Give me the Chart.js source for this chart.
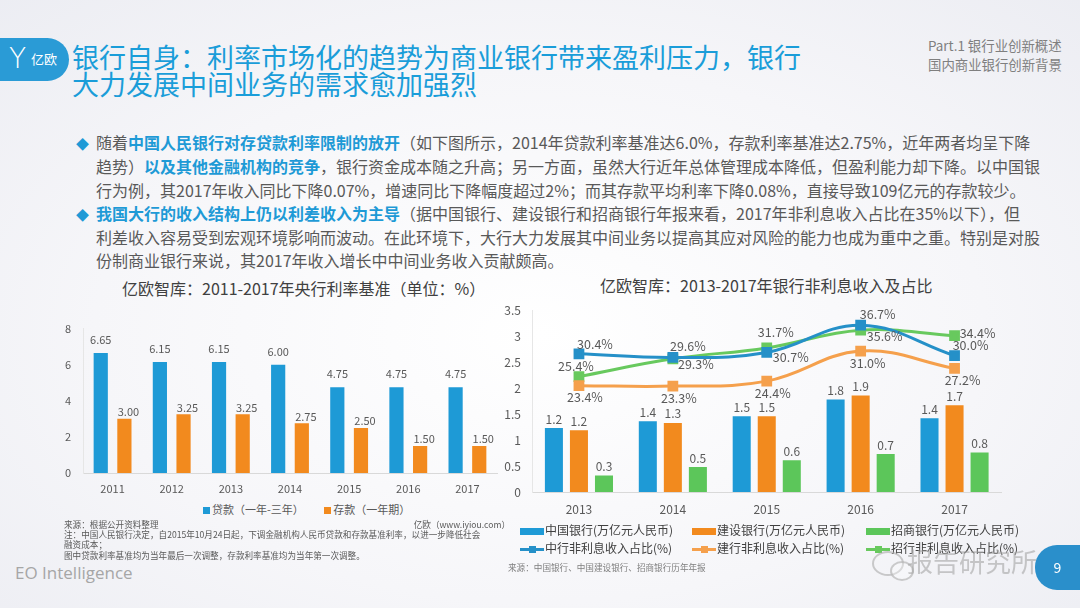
<!DOCTYPE html>
<html>
<head>
<meta charset="utf-8">
<script src="https://cdn.jsdelivr.net/npm/chart.js@4/dist/chart.umd.min.js"></script>
<style>
  html,body{margin:0;padding:0;}
  body{width:1080px;height:608px;overflow:hidden;position:relative;
    font-family:"Noto Sans CJK SC","Noto Sans",sans-serif;
    background:radial-gradient(ellipse 75% 80% at 50% 55%, #ffffff 0%, #f6f6f9 55%, #ebecf2 100%);}
  .abs{position:absolute;white-space:nowrap;}
  #logo{left:0;top:38px;width:69px;height:43px;background:#2a9bd6;border-radius:0 22px 22px 0;}
  #logo .y{position:absolute;left:9px;top:4px;color:#fff;font:300 28px "DejaVu Sans",sans-serif;line-height:34px;}
  #logo .t{position:absolute;left:31px;top:13px;color:#fff;font-size:13px;line-height:16px;}
  #title{left:72px;top:43px;color:#1a9dd9;font-size:27px;line-height:27px;letter-spacing:0px;}
  #part{left:928px;top:36px;color:#7f7f7f;font-size:13.4px;line-height:19px;}
  #body{left:76px;top:131px;color:#595959;font-size:16px;line-height:23.3px;}
  #body b{color:#1e9ad6;font-weight:bold;}
  #body .d{color:#1e9ad6;font-size:13px;display:inline-block;width:20px;}
  .ctitle{color:#404040;font-size:16px;line-height:20px;}
  .small{color:#595959;font-size:8.6px;line-height:10.5px;}
  .leg{color:#404040;font-size:12px;line-height:16px;}
  .sw{display:inline-block;vertical-align:middle;position:relative;margin-right:1px;}
</style>
</head>
<body>
<div id="logo" class="abs"><span class="y">Y</span><span class="t">亿欧</span></div>
<div id="title" class="abs">银行自身：利率市场化的趋势为商业银行带来盈利压力，银行<br>大力发展中间业务的需求愈加强烈</div>
<div id="part" class="abs">Part.1 银行业创新概述<br>国内商业银行创新背景</div>

<div id="body" class="abs">
<div><span class="d">◆</span>随着<b>中国人民银行对存贷款利率限制的放开</b>（如下图所示，2014年贷款利率基准达6.0%，存款利率基准达2.75%，近年两者均呈下降</div>
<div><span class="d"></span>趋势）<b>以及其他金融机构的竞争</b>，银行资金成本随之升高；另一方面，虽然大行近年总体管理成本降低，但盈利能力却下降。以中国银</div>
<div><span class="d"></span>行为例，其2017年收入同比下降0.07%，增速同比下降幅度超过2%；而其存款平均利率下降0.08%，直接导致109亿元的存款较少。</div>
<div><span class="d">◆</span><b>我国大行的收入结构上仍以利差收入为主导</b>（据中国银行、建设银行和招商银行年报来看，2017年非利息收入占比在35%以下），但</div>
<div><span class="d"></span>利差收入容易受到宏观环境影响而波动。在此环境下，大行大力发展其中间业务以提高其应对风险的能力也成为重中之重。特别是对股</div>
<div><span class="d"></span>份制商业银行来说，其2017年收入增长中中间业务收入贡献颇高。</div>
</div>

<div class="abs ctitle" style="left:122px;top:278px;">亿欧智库：2011-2017年央行利率基准（单位：%）</div>
<div class="abs ctitle" style="left:600px;top:275px;">亿欧智库：2013-2017年银行非利息收入及占比</div>

<div class="abs" style="left:50px;top:310px;width:450px;height:190px;"><canvas id="c1" width="450" height="190"></canvas></div>
<div class="abs" style="left:495px;top:292px;width:515px;height:228px;"><canvas id="c2" width="515" height="228"></canvas></div>

<div class="abs" style="left:203px;top:502px;color:#595959;font-size:11px;line-height:14px;">
  <span style="display:inline-block;width:7px;height:7px;background:#1e9ad6;margin-right:2px;"></span>贷款（一年-三年）
  <span style="display:inline-block;width:7px;height:7px;background:#f28a1e;margin:0 2px 0 18px;"></span>存款（一年期）
</div>
<div class="abs small" style="left:64px;top:519px;">来源：根据公开资料整理</div>
<div class="abs small" style="left:398px;top:519px;width:112px;text-align:right;">亿欧（www.iyiou.com）</div>
<div class="abs small" style="left:64px;top:529px;">注：中国人民银行决定，自2015年10月24日起，下调金融机构人民币贷款和存款基准利率，以进一步降低社会</div>
<div class="abs small" style="left:64px;top:539px;">融资成本；</div>
<div class="abs small" style="left:64px;top:550px;">图中贷款利率基准均为当年最后一次调整，存款利率基准均为当年第一次调整。</div>
<div class="abs" style="left:15px;top:562px;color:#a6a6a6;font-size:17px;line-height:22px;font-family:'Open Sans','Noto Sans',sans-serif;">EO Intelligence</div>

<div id="leg2" class="abs leg" style="left:520px;top:522px;"></div>
<div class="abs small" style="left:508px;top:562px;color:#7f7f7f;">来源：中国银行、中国建设银行、招商银行历年年报</div>

<div class="abs" style="left:872px;top:551px;width:28px;height:21px;border:2px solid rgba(170,170,170,0.6);border-radius:50%;"></div>
<div class="abs" style="left:890px;top:561px;width:20px;height:16px;border:2px solid rgba(170,170,170,0.6);border-radius:50%;background:rgba(255,255,255,0.3);"></div>
<div class="abs" style="left:907px;top:545px;color:rgba(165,165,165,0.6);font-size:26px;line-height:32px;">报告研究所</div>
<div class="abs" style="left:1035px;top:545px;width:45px;height:45px;background:#2a8fcb;border-radius:22px 0 0 22px;color:#fff;font-size:14px;line-height:45px;text-align:center;">9</div>

<script>
// ---- data: left chart ----
const rateYears = ['2011','2012','2013','2014','2015','2016','2017'];
const loanRates = [6.65, 6.15, 6.15, 6.00, 4.75, 4.75, 4.75];
const depositRates = [3.00, 3.25, 3.25, 2.75, 2.50, 1.50, 1.50];
const rateSeriesNames = ['贷款（一年-三年）', '存款（一年期）'];

// ---- data: right chart ----
const incomeYears = ['2013','2014','2015','2016','2017'];
const bocIncome = [1.23, 1.36, 1.46, 1.78, 1.42];
const ccbIncome = [1.19, 1.33, 1.46, 1.86, 1.67];
const cmbIncome = [0.32, 0.48, 0.61, 0.73, 0.76];
const bocShare = [30.4, 29.6, 30.7, 36.7, 30.0];
const ccbShare = [23.4, 23.3, 24.4, 31.0, 27.2];
const cmbShare = [25.4, 29.3, 31.7, 35.6, 34.4];
const incomeSeriesNames = ['中国银行(万亿元人民币)','建设银行(万亿元人民币)','招商银行(万亿元人民币)',
  '中行非利息收入占比(%)','建行非利息收入占比(%)','招行非利息收入占比(%)'];

const FONT = '"Noto Sans CJK SC","Noto Sans",sans-serif';
const C_BLUE='#1e9ad6', C_ORANGE='#f28a1e', C_GREEN='#5cc65a';
const L_BLUE='#2590c8', L_ORANGE='#f5a04c', L_GREEN='#68c95e';

const labelPlugin = {
  id:'valueLabels',
  afterDatasetsDraw(chart){
    const ctx = chart.ctx;
    chart.data.datasets.forEach((ds,i)=>{
      const meta = chart.getDatasetMeta(i);
      if (!ds.lbl) return;
      const L = ds.lbl;
      ctx.save();
      ctx.font = L.size + 'px ' + FONT;
      ctx.fillStyle = L.color || '#595959';
      ctx.textAlign='center'; ctx.textBaseline='middle';
      meta.data.forEach((el,j)=>{
        const txt = L.fmt(ds.data[j]);
        let off = L.off;
        if (Array.isArray(off[0])) off = off[j];
        ctx.fillText(txt, el.x + off[0], el.y + off[1]);
      });
      ctx.restore();
    });
  }
};

function fixY(w){ return function(s){ s.width = w; }; }
function fixX(h){ return function(s){ s.height = h; }; }
const plainTick = v => String(v);

new Chart(document.getElementById('c1'), {
  type:'bar',
  data:{ labels: rateYears, datasets:[
    {label:rateSeriesNames[0], data:loanRates, backgroundColor:C_BLUE, categoryPercentage:0.8, barPercentage:0.6,
      lbl:{size:11, color:'#595959', fmt:v=>v.toFixed(2), off:[0,-13]}},
    {label:rateSeriesNames[1], data:depositRates, backgroundColor:C_ORANGE, categoryPercentage:0.8, barPercentage:0.6,
      lbl:{size:11, color:'#595959', fmt:v=>v.toFixed(2), off:[4,-7]}}
  ]},
  options:{
    responsive:false, animation:false, devicePixelRatio:1,
    layout:{padding:{top:10,right:3,left:0,bottom:0}},
    plugins:{legend:{display:false}, tooltip:{enabled:false}},
    scales:{
      x:{grid:{display:false,drawTicks:false}, border:{display:true,color:'#d9d9d9'},
         ticks:{color:'#595959',font:{size:11,family:FONT},padding:9}, afterFit:fixX(27)},
      y:{min:0,max:8,ticks:{stepSize:2,color:'#595959',font:{size:11,family:FONT},padding:12,callback:plainTick},
         grid:{display:false,drawTicks:false}, border:{display:true,color:'#e6e6e6'}, afterFit:fixY(33)}
    }
  },
  plugins:[labelPlugin]
});

const barOpts = {categoryPercentage:0.8, barPercentage:0.72, order:2, yAxisID:'y'};
const barLbl = {size:12, color:'#595959', fmt:v=>v.toFixed(1), off:[0,-9]};
const pctFmt = v=>v.toFixed(1)+'%';
const lineBase = {type:'line', yAxisID:'y2', order:0, tension:0.4, borderWidth:3, pointStyle:'rect', pointRadius:5.5, fill:false};

new Chart(document.getElementById('c2'), {
  type:'bar',
  data:{ labels: incomeYears, datasets:[
    Object.assign({label:incomeSeriesNames[0], data:bocIncome, backgroundColor:C_BLUE, lbl:barLbl}, barOpts),
    Object.assign({label:incomeSeriesNames[1], data:ccbIncome, backgroundColor:C_ORANGE, lbl:barLbl}, barOpts),
    Object.assign({label:incomeSeriesNames[2], data:cmbIncome, backgroundColor:C_GREEN, lbl:barLbl}, barOpts),
    Object.assign({}, lineBase, {label:incomeSeriesNames[3], data:bocShare, borderColor:L_BLUE, backgroundColor:L_BLUE,
      lbl:{size:12.5,color:'#595959',fmt:pctFmt,off:[[16,-10],[15,-11],[24,5],[17,-11],[16,-10]]}}),
    Object.assign({}, lineBase, {label:incomeSeriesNames[4], data:ccbShare, borderColor:L_ORANGE, backgroundColor:L_ORANGE,
      lbl:{size:12.5,color:'#595959',fmt:pctFmt,off:[[6,12],[6,12],[6,12],[7,12],[8,12]]}}),
    Object.assign({}, lineBase, {label:incomeSeriesNames[5], data:cmbShare, borderColor:L_GREEN, backgroundColor:L_GREEN, order:1,
      lbl:{size:12.5,color:'#595959',fmt:pctFmt,off:[[-3,-10],[23,5],[9,-16],[24,6],[23,-2]]}})
  ]},
  options:{
    responsive:false, animation:false, devicePixelRatio:1,
    layout:{padding:{top:11,right:8,left:0,bottom:0}},
    plugins:{legend:{display:false}, tooltip:{enabled:false}},
    scales:{
      x:{grid:{display:false,drawTicks:false}, border:{display:true,color:'#d9d9d9'},
         ticks:{color:'#595959',font:{size:12,family:FONT},padding:10}, afterFit:fixX(28)},
      y:{min:0,max:3.5,ticks:{stepSize:0.5,color:'#595959',font:{size:12,family:FONT},padding:11,callback:plainTick},
         grid:{display:false,drawTicks:false}, border:{display:true,color:'#e6e6e6'}, afterFit:fixY(37)},
      y2:{display:false,min:0,max:40}
    }
  },
  plugins:[labelPlugin]
});

(function(){
  const cols=[C_BLUE,C_ORANGE,C_GREEN], lcols=[L_BLUE,L_ORANGE,L_GREEN];
  const lefts=[0,172,346];
  const box=document.getElementById('leg2');
  for(let r=0;r<2;r++){
    for(let k=0;k<3;k++){
      const d=document.createElement('div');
      d.className='abs';
      d.style.left=lefts[k]+'px'; d.style.top=(r*18)+'px';
      let sw;
      if(r===0){
        sw='<span class="sw" style="width:24px;height:7px;background:'+cols[k]+';"></span>';
      } else {
        sw='<span class="sw" style="width:24px;height:7px;"><span style="position:absolute;left:0;top:2px;width:24px;height:3px;background:'+lcols[k]+'"></span><span style="position:absolute;left:8.5px;top:0;width:7px;height:7px;background:'+lcols[k]+'"></span></span>';
      }
      d.innerHTML=sw+incomeSeriesNames[r*3+k];
      box.appendChild(d);
    }
  }
})();
</script>
</body>
</html>
